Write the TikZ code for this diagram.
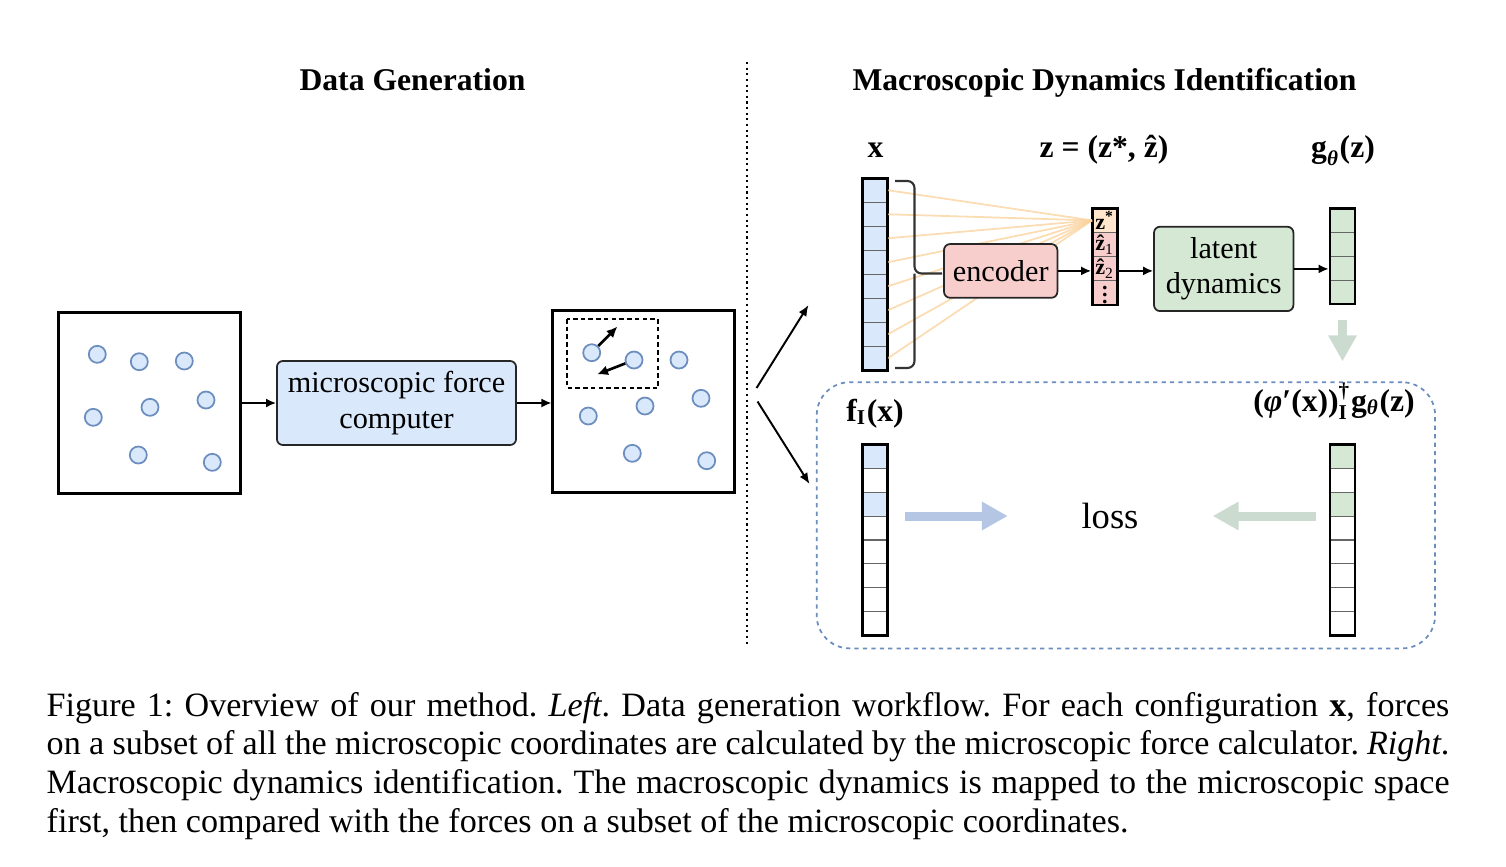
\documentclass[tikz,border=0pt]{standalone}
\usepackage{amsmath}
\usepackage{fontspec}
\setmainfont{Liberation Serif}
\usetikzlibrary{arrows.meta,positioning,calc}

\definecolor{cellblue}{HTML}{DAE8FC}
\definecolor{edgeblue}{HTML}{6C8EBF}
\definecolor{cellpink}{HTML}{F8CECC}
\definecolor{cellorange}{HTML}{FFE6CC}
\definecolor{cellgreen}{HTML}{D5E8D4}
\definecolor{fanorange}{HTML}{FAD3A0}
\definecolor{arrowblue}{HTML}{B4C6E4}
\definecolor{arrowgreen}{HTML}{CCDBD0}

\begin{document}
\begin{tikzpicture}[x=0.01cm, y=-0.01cm,
  panel/.style={draw, line width=0.85pt, minimum width=1.81cm, minimum height=1.81cm, inner sep=0},
  particle/.style={circle, draw=edgeblue, fill=cellblue, line width=0.5pt, minimum size=0.17cm, inner sep=0},
  block/.style={draw=black!85, rounded corners=0.06cm, line width=0.5pt, align=center, inner sep=0,
    font=\fontsize{8.6}{10}\selectfont},
  flow/.style={-{Latex[length=0.1cm,width=0.09cm]}, line width=0.5pt},
  force/.style={-{Latex[length=0.11cm,width=0.1cm]}, line width=0.75pt},
  branch/.style={-{Latex[length=0.11cm,width=0.09cm]}, line width=0.55pt},
  cell/.style={draw=black!60, line width=0.3pt, minimum width=0.25cm, minimum height=0.2396cm, inner sep=0},
  vecframe/.style={draw, line width=0.8pt, minimum width=0.25cm, inner sep=0},
  lab/.style={font=\fontsize{9}{10}\selectfont\bfseries, anchor=base, inner sep=0},
  zlab/.style={font=\fontsize{6.3}{7}\selectfont\bfseries, inner sep=0},
  heading/.style={font=\fontsize{9}{10}\selectfont\bfseries, anchor=base, inner sep=0},
  fan/.style={draw=fanorange, line width=0.5pt, opacity=0.8},
  bigarrow/.style={line width=0.09cm, -{Triangle[length=0.26cm,width=0.27cm]}},
  lossframe/.style={draw=edgeblue, rounded corners=0.33cm, line width=0.5pt, dash pattern=on 1.2pt off 1.2pt,
    minimum width=6.18cm, minimum height=2.66cm, inner sep=0},
]
\useasboundingbox (0,0) rectangle (1506,866);

% headings and separator
\node[heading] (tdata) at (412.5,90) {Data Generation};
\node[heading] (tmacro) at (1104.5,90) {Macroscopic Dynamics Identification};
\draw[line width=0.45pt, dash pattern=on 0.6pt off 1pt] (747,62) -- (747,645);

% left: configuration -> force computer -> configuration with forces
\node[panel] (cfg) at (149.5,403) {};
\foreach \px/\py in {97.3/354.3, 139.3/361.7, 184.3/361, 93.3/417.3, 150/407.3, 206/400, 138.3/455, 212.3/462.3}
  \node[particle] at (\px,\py) {};
\node[block, fill=cellblue, minimum width=2.39cm, minimum height=0.84cm] (micro) at (396.5,403) {microscopic force\\computer};
\node[panel] (cfgf) at (643.5,401.5) {};
\node[particle] (q1) at (591.7,352.7) {};
\node[particle] (q2) at (634,360) {};
\foreach \px/\py in {679/360, 588.3/416, 645/406, 701/398.3, 632.3/453.3, 706.7/460.7}
  \node[particle] at (\px,\py) {};
\draw[line width=0.7pt, dash pattern=on 1.3pt off 0.9pt] (567,319) rectangle (658,388);
\coordinate (f1) at (617.5,326.5);
\coordinate (f2) at (597,374.5);
\draw[force] (q1) -- (f1);
\draw[force] (q2) -- (f2);
\draw[flow] (cfg.east) -- (micro.west);
\draw[flow] (micro.east) -- (micro.east -| cfgf.west);

% split towards the two branches
\coordinate (up) at (808.5,305);
\coordinate (dn) at (809.5,484);
\draw[branch] ($(cfgf.east)+(21,-13.5)$) -- (up);
\draw[branch] ($(cfgf.east)+(22,0)$) -- (dn);

% right top: x -> encoder -> z -> latent dynamics -> g
\node[lab] at (875.5,157) {x};
\node[lab] at (1104,157) {z = (z*, \^{z})};
\node[lab] at (1343,157) {$\textbf{g}_{\textbf{\textit{θ}}}$(z)};

\foreach \i in {0,...,7}
  \node[cell, fill=cellblue] (x\i) at (875.2,190.3+23.96*\i) {};
\node[vecframe, minimum height=1.917cm] (xvec) at (875.2,274.2) {};

\node[cell, fill=cellorange, minimum height=0.2418cm] (z0) at (1105,220.4) {};
\foreach \i in {1,2,3}
  \node[cell, fill=cellpink, minimum height=0.2418cm] (z\i) at (1105,220.4+24.18*\i) {};
\node[vecframe, minimum height=0.967cm] (zvec) at (1105,256.7) {};
\node[zlab] at (z0) {z\textsuperscript{*}};
\node[zlab] at (z1) {\^{z}\textsubscript{\mdseries 1}};
\node[zlab] at (z2) {\^{z}\textsubscript{\mdseries 2}};
\node[zlab] at ($(z3)+(0,2)$) {\vbox{\baselineskip=2.1pt\lineskiplimit=-5pt\hbox{.}\hbox{.}\hbox{.}}};

% fan of inputs into z*
\foreach \i in {0,...,7}
  \draw[fan] (x\i.east) -- (z0.west);
\draw[line width=0.6pt, draw=black!80, rounded corners=0.07cm]
  (895,181) -- (914.5,181) -- (914.5,273.5) -- (942,273.5);
\draw[line width=0.6pt, draw=black!80, rounded corners=0.07cm]
  (895,368) -- (914.5,368) -- (914.5,273.5);

\node[block, fill=cellpink, minimum width=1.133cm, minimum height=0.537cm] (enc) at (1000.7,270.9) {encoder};
\node[block, fill=cellgreen, minimum width=1.393cm, minimum height=0.843cm] (lat) at (1223.7,268.9) {latent\\dynamics};

\foreach \i in {0,...,3}
  \node[cell, fill=cellgreen] (g\i) at (1342.5,220.3+23.92*\i) {};
\node[vecframe, minimum height=0.957cm] (gvec) at (1342.5,256.2) {};

\draw[flow] (enc.east) -- (enc.east -| zvec.west);
\draw[flow] (enc.east -| zvec.east) -- (enc.east -| lat.west);
\draw[flow] (lat.east) -- (lat.east -| gvec.west);

% right bottom: loss between the two force vectors
\node[lossframe] (frame) at (1125.9,515.3) {};
\draw[bigarrow, arrowgreen, shorten <=0.14cm, shorten >=0.2cm] (gvec.south) -- (gvec.south |- frame.north);

\node[lab] at (875,421) {$\textbf{f}_{\textbf{I}}$(x)};
\node[lab] at (1334,411) {(\textit{φ}′(x))$^{\textbf{†}}_{\textbf{I}}$g$_{\textbf{\textit{θ}}}$(z)};

\foreach \i/\c in {0/cellblue,1/white,2/cellblue,3/white,4/white,5/white,6/white,7/white}
  \node[cell, fill=\c] (fi\i) at (875.3,456.3+23.92*\i) {};
\node[vecframe, minimum height=1.914cm] (fvec) at (875.3,540) {};
\foreach \i/\c in {0/cellgreen,1/white,2/cellgreen,3/white,4/white,5/white,6/white,7/white}
  \node[cell, fill=\c] (pg\i) at (1342.5,456.3+23.92*\i) {};
\node[vecframe, minimum height=1.914cm] (pvec) at (1342.5,540) {};

\node[font=\fontsize{10.4}{12}\selectfont, inner sep=0] (loss) at (1110,516) {loss};
\draw[bigarrow, arrowblue, shorten <=0.153cm, shorten >=0.73cm] (fvec.east |- loss.center) -- (loss.west);
\draw[bigarrow, arrowgreen, shorten <=0.13cm, shorten >=0.735cm] (pvec.west |- loss.center) -- (loss.east);

% caption
\node[anchor=base west, text width=14.02cm, align=justify, inner sep=0, font=\fontsize{9.7}{11}\selectfont\frenchspacing] (cap) at (46,716)
  {Figure 1: Overview of our method. \textit{Left}. Data generation workflow. For each configuration \textbf{x}, forces\linebreak
   on a subset of all the microscopic coordinates are calculated by the microscopic force calculator. \textit{Right}.\linebreak
   Macroscopic dynamics identification. The macroscopic dynamics is mapped to the microscopic space\linebreak
   first, then compared with the forces on a subset of the microscopic coordinates.};
\end{tikzpicture}
\end{document}
